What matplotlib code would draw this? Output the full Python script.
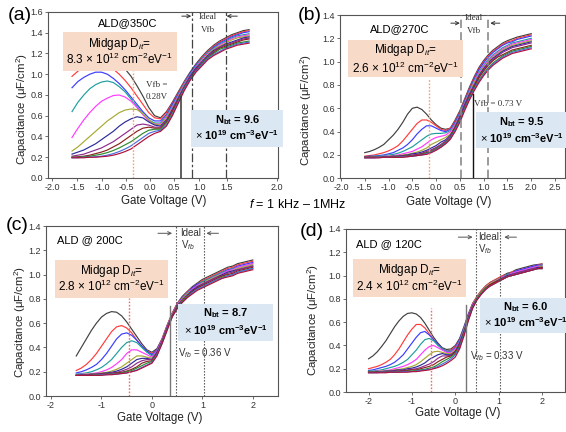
import numpy as np
import matplotlib
matplotlib.use('Agg')
import matplotlib.pyplot as plt
from matplotlib.patches import Rectangle
from matplotlib.ticker import FormatStrFormatter

plt.rcParams['font.family'] = ['Liberation Sans', 'DejaVu Sans']
plt.rcParams['mathtext.fontset'] = 'custom'
plt.rcParams['mathtext.rm'] = 'Liberation Sans'
plt.rcParams['mathtext.it'] = 'Liberation Sans:italic'
plt.rcParams['mathtext.bf'] = 'Liberation Sans:bold'
plt.rcParams['axes.unicode_minus'] = False

COLORS = ['#404040', '#ff3b3b', '#3b3bff', '#1e9e9e', '#ff3bff', '#a8a832',
          '#2b2b9a', '#8e2b8e', '#8b2020', '#2e8b2e', '#4a6fe0', '#b0103c']

# ---------------- voltage sweeps ----------------
va = np.round(np.linspace(-1.5, 1.5, 31), 2)
vb = np.round(np.linspace(-1.5, 2.0, 36), 2)
vc = np.round(np.linspace(-1.5, 2.0, 36), 2)
vd = np.round(np.linspace(-2.0, 2.0, 41), 2)

# ---------------- (a) ALD@350C ----------------
a_inv = [  # -1.5 .. 0.0 V
    [1.10, 1.16, 1.20, 1.23, 1.24, 1.24, 1.22, 1.17, 1.11, 1.05, 0.98, 0.89, 0.79, 0.68, 0.60, 0.58],
    [0.98, 1.03, 1.07, 1.10, 1.11, 1.11, 1.09, 1.05, 1.00, 0.94, 0.87, 0.79, 0.71, 0.63, 0.58, 0.57],
    [0.87, 0.93, 0.97, 1.00, 1.02, 1.02, 1.00, 0.96, 0.91, 0.85, 0.78, 0.71, 0.64, 0.58, 0.55, 0.55],
    [0.64, 0.73, 0.80, 0.86, 0.90, 0.925, 0.935, 0.92, 0.88, 0.83, 0.76, 0.69, 0.62, 0.56, 0.53, 0.53],
    [0.39, 0.48, 0.56, 0.63, 0.69, 0.74, 0.77, 0.795, 0.80, 0.78, 0.74, 0.68, 0.61, 0.55, 0.52, 0.52],
    [0.26, 0.30, 0.35, 0.40, 0.45, 0.50, 0.55, 0.59, 0.63, 0.655, 0.665, 0.66, 0.62, 0.56, 0.52, 0.51],
    [0.23, 0.25, 0.27, 0.30, 0.33, 0.37, 0.41, 0.45, 0.50, 0.54, 0.57, 0.59, 0.58, 0.54, 0.51, 0.50],
    [0.21, 0.22, 0.23, 0.25, 0.27, 0.29, 0.32, 0.35, 0.39, 0.43, 0.47, 0.51, 0.52, 0.51, 0.49, 0.49],
    [0.20, 0.205, 0.21, 0.22, 0.235, 0.25, 0.27, 0.30, 0.33, 0.37, 0.41, 0.45, 0.48, 0.49, 0.48, 0.48],
    [0.20, 0.20, 0.205, 0.21, 0.22, 0.23, 0.245, 0.265, 0.29, 0.32, 0.35, 0.39, 0.43, 0.46, 0.47, 0.47],
    [0.195, 0.195, 0.20, 0.20, 0.205, 0.21, 0.22, 0.235, 0.255, 0.28, 0.31, 0.35, 0.39, 0.43, 0.45, 0.46],
    [0.195, 0.195, 0.195, 0.20, 0.20, 0.205, 0.21, 0.22, 0.235, 0.255, 0.28, 0.32, 0.36, 0.40, 0.43, 0.45],
]
a_acc = [  # 0.1 .. 1.5 V
    [0.64, 0.73, 0.83, 0.93, 1.02, 1.10, 1.17, 1.23, 1.28, 1.32, 1.35, 1.38, 1.40, 1.42, 1.43],
    [0.63, 0.72, 0.82, 0.92, 1.01, 1.09, 1.16, 1.22, 1.27, 1.31, 1.34, 1.37, 1.39, 1.41, 1.42],
    [0.61, 0.71, 0.81, 0.91, 1.01, 1.09, 1.15, 1.21, 1.26, 1.30, 1.33, 1.36, 1.38, 1.40, 1.41],
    [0.60, 0.69, 0.80, 0.91, 1.00, 1.08, 1.15, 1.21, 1.25, 1.29, 1.32, 1.35, 1.37, 1.38, 1.39],
    [0.59, 0.68, 0.79, 0.90, 0.99, 1.07, 1.14, 1.20, 1.24, 1.28, 1.31, 1.34, 1.36, 1.37, 1.38],
    [0.58, 0.67, 0.78, 0.89, 0.98, 1.06, 1.13, 1.19, 1.24, 1.27, 1.30, 1.33, 1.35, 1.36, 1.37],
    [0.56, 0.66, 0.77, 0.88, 0.98, 1.06, 1.12, 1.18, 1.23, 1.26, 1.29, 1.31, 1.33, 1.35, 1.36],
    [0.55, 0.65, 0.76, 0.87, 0.97, 1.05, 1.11, 1.17, 1.22, 1.26, 1.28, 1.30, 1.32, 1.34, 1.35],
    [0.54, 0.64, 0.75, 0.86, 0.96, 1.04, 1.10, 1.16, 1.21, 1.25, 1.27, 1.29, 1.31, 1.33, 1.34],
    [0.53, 0.62, 0.74, 0.86, 0.95, 1.03, 1.10, 1.16, 1.20, 1.24, 1.26, 1.28, 1.30, 1.31, 1.32],
    [0.51, 0.61, 0.73, 0.85, 0.95, 1.03, 1.09, 1.15, 1.19, 1.22, 1.25, 1.27, 1.29, 1.30, 1.31],
    [0.50, 0.60, 0.72, 0.84, 0.94, 1.02, 1.08, 1.14, 1.18, 1.21, 1.24, 1.26, 1.28, 1.29, 1.30],
]

# ---------------- (b) ALD@270C ----------------
b_inv = [  # -1.5 .. 0.3 V
    [0.22, 0.23, 0.245, 0.265, 0.29, 0.33, 0.37, 0.42, 0.48, 0.55, 0.60, 0.61, 0.59, 0.55, 0.50, 0.46, 0.43, 0.42, 0.43],
    [0.19, 0.195, 0.20, 0.21, 0.22, 0.235, 0.255, 0.28, 0.32, 0.37, 0.42, 0.47, 0.50, 0.50, 0.48, 0.45, 0.42, 0.41, 0.43],
    [0.185, 0.19, 0.19, 0.195, 0.20, 0.21, 0.22, 0.24, 0.26, 0.29, 0.33, 0.38, 0.42, 0.45, 0.45, 0.43, 0.41, 0.40, 0.42],
    [0.185, 0.185, 0.19, 0.19, 0.195, 0.20, 0.205, 0.215, 0.23, 0.25, 0.27, 0.30, 0.33, 0.36, 0.38, 0.385, 0.385, 0.39, 0.41],
    [0.18, 0.18, 0.185, 0.185, 0.19, 0.19, 0.195, 0.20, 0.21, 0.22, 0.23, 0.25, 0.27, 0.30, 0.33, 0.35, 0.36, 0.37, 0.40],
    [0.18, 0.18, 0.18, 0.185, 0.185, 0.19, 0.19, 0.195, 0.20, 0.205, 0.215, 0.225, 0.24, 0.26, 0.29, 0.31, 0.33, 0.35, 0.38],
    [0.18, 0.18, 0.18, 0.18, 0.185, 0.185, 0.19, 0.19, 0.195, 0.20, 0.21, 0.215, 0.225, 0.24, 0.26, 0.28, 0.31, 0.33, 0.37],
    [0.18, 0.18, 0.18, 0.18, 0.18, 0.185, 0.185, 0.19, 0.19, 0.195, 0.20, 0.205, 0.215, 0.23, 0.245, 0.265, 0.29, 0.32, 0.36],
    [0.18, 0.18, 0.18, 0.18, 0.18, 0.18, 0.185, 0.185, 0.19, 0.19, 0.195, 0.20, 0.21, 0.22, 0.235, 0.255, 0.28, 0.31, 0.35],
    [0.18, 0.18, 0.18, 0.18, 0.18, 0.18, 0.18, 0.185, 0.185, 0.19, 0.19, 0.195, 0.205, 0.215, 0.23, 0.25, 0.275, 0.305, 0.345],
    [0.175, 0.175, 0.175, 0.18, 0.18, 0.18, 0.18, 0.18, 0.185, 0.185, 0.19, 0.195, 0.20, 0.21, 0.225, 0.245, 0.27, 0.30, 0.34],
    [0.175, 0.175, 0.175, 0.175, 0.18, 0.18, 0.18, 0.18, 0.18, 0.185, 0.19, 0.195, 0.20, 0.205, 0.22, 0.24, 0.265, 0.295, 0.335],
]
b_acc = [  # 0.4 .. 2.0 V
    [0.50, 0.58, 0.68, 0.78, 0.87, 0.95, 1.01, 1.06, 1.10, 1.13, 1.16, 1.18, 1.195, 1.21, 1.22, 1.23, 1.24],
    [0.49, 0.57, 0.67, 0.77, 0.86, 0.94, 1.00, 1.05, 1.09, 1.12, 1.15, 1.17, 1.18, 1.20, 1.21, 1.22, 1.23],
    [0.48, 0.56, 0.66, 0.76, 0.85, 0.93, 0.99, 1.04, 1.08, 1.11, 1.14, 1.16, 1.17, 1.19, 1.20, 1.21, 1.22],
    [0.47, 0.55, 0.65, 0.75, 0.84, 0.91, 0.97, 1.02, 1.06, 1.09, 1.12, 1.14, 1.16, 1.17, 1.18, 1.19, 1.20],
    [0.46, 0.54, 0.64, 0.74, 0.83, 0.90, 0.96, 1.01, 1.05, 1.08, 1.11, 1.13, 1.15, 1.16, 1.17, 1.18, 1.19],
    [0.45, 0.53, 0.63, 0.73, 0.82, 0.89, 0.95, 1.00, 1.04, 1.07, 1.10, 1.12, 1.14, 1.15, 1.16, 1.17, 1.18],
    [0.44, 0.53, 0.63, 0.72, 0.80, 0.88, 0.94, 0.99, 1.03, 1.06, 1.09, 1.11, 1.13, 1.14, 1.15, 1.16, 1.17],
    [0.44, 0.52, 0.62, 0.71, 0.79, 0.87, 0.93, 0.98, 1.02, 1.05, 1.08, 1.10, 1.12, 1.13, 1.14, 1.15, 1.16],
    [0.43, 0.51, 0.61, 0.70, 0.78, 0.86, 0.92, 0.97, 1.01, 1.04, 1.06, 1.08, 1.10, 1.11, 1.12, 1.13, 1.14],
    [0.42, 0.50, 0.60, 0.69, 0.77, 0.84, 0.90, 0.95, 0.99, 1.02, 1.05, 1.07, 1.09, 1.10, 1.11, 1.12, 1.13],
    [0.41, 0.49, 0.59, 0.68, 0.76, 0.83, 0.89, 0.94, 0.98, 1.01, 1.04, 1.06, 1.08, 1.09, 1.10, 1.11, 1.12],
    [0.40, 0.48, 0.58, 0.67, 0.75, 0.82, 0.88, 0.93, 0.97, 1.00, 1.03, 1.05, 1.07, 1.08, 1.09, 1.10, 1.11],
]

# ---------------- (c) ALD @ 200C ----------------
c_inv = [  # -1.5 .. 0.0 V
    [0.33, 0.40, 0.47, 0.54, 0.60, 0.65, 0.68, 0.695, 0.69, 0.66, 0.61, 0.55, 0.49, 0.43, 0.38, 0.36],
    [0.21, 0.23, 0.26, 0.30, 0.35, 0.41, 0.47, 0.53, 0.57, 0.58, 0.56, 0.52, 0.46, 0.41, 0.37, 0.35],
    [0.19, 0.20, 0.215, 0.235, 0.26, 0.30, 0.35, 0.41, 0.47, 0.51, 0.52, 0.50, 0.46, 0.41, 0.37, 0.34],
    [0.18, 0.185, 0.19, 0.20, 0.215, 0.235, 0.265, 0.30, 0.35, 0.40, 0.44, 0.455, 0.44, 0.40, 0.36, 0.33],
    [0.175, 0.18, 0.18, 0.185, 0.19, 0.20, 0.215, 0.235, 0.265, 0.30, 0.35, 0.38, 0.38, 0.36, 0.34, 0.32],
    [0.175, 0.175, 0.18, 0.18, 0.185, 0.19, 0.195, 0.205, 0.22, 0.24, 0.27, 0.30, 0.33, 0.33, 0.32, 0.31],
    [0.17, 0.175, 0.175, 0.18, 0.18, 0.185, 0.19, 0.195, 0.205, 0.22, 0.24, 0.27, 0.30, 0.31, 0.31, 0.30],
    [0.17, 0.17, 0.175, 0.175, 0.18, 0.18, 0.185, 0.19, 0.195, 0.205, 0.22, 0.24, 0.27, 0.29, 0.30, 0.30],
    [0.17, 0.17, 0.17, 0.175, 0.175, 0.18, 0.18, 0.185, 0.19, 0.195, 0.205, 0.22, 0.24, 0.27, 0.285, 0.29],
    [0.17, 0.17, 0.17, 0.17, 0.175, 0.175, 0.18, 0.18, 0.185, 0.19, 0.20, 0.21, 0.23, 0.25, 0.27, 0.285],
    [0.17, 0.17, 0.17, 0.17, 0.17, 0.175, 0.175, 0.18, 0.18, 0.185, 0.19, 0.20, 0.215, 0.235, 0.255, 0.275],
    [0.17, 0.17, 0.17, 0.17, 0.17, 0.17, 0.175, 0.175, 0.18, 0.185, 0.19, 0.20, 0.21, 0.23, 0.25, 0.27],
]
c_acc = [  # 0.1 .. 2.0 V
    [0.39, 0.47, 0.58, 0.68, 0.76, 0.82, 0.86, 0.90, 0.93, 0.96, 0.98, 1.00, 1.02, 1.04, 1.06, 1.07, 1.09, 1.10, 1.11, 1.12],
    [0.38, 0.47, 0.58, 0.68, 0.76, 0.81, 0.86, 0.89, 0.92, 0.95, 0.97, 0.99, 1.01, 1.03, 1.05, 1.06, 1.08, 1.09, 1.10, 1.11],
    [0.38, 0.46, 0.57, 0.67, 0.75, 0.81, 0.85, 0.89, 0.92, 0.94, 0.96, 0.98, 1.00, 1.02, 1.04, 1.05, 1.07, 1.08, 1.09, 1.10],
    [0.37, 0.46, 0.57, 0.67, 0.75, 0.80, 0.85, 0.88, 0.91, 0.94, 0.96, 0.98, 1.00, 1.02, 1.03, 1.05, 1.06, 1.07, 1.08, 1.09],
    [0.37, 0.46, 0.57, 0.67, 0.75, 0.80, 0.84, 0.88, 0.91, 0.93, 0.95, 0.97, 0.99, 1.01, 1.03, 1.04, 1.06, 1.07, 1.08, 1.09],
    [0.36, 0.45, 0.56, 0.67, 0.74, 0.80, 0.84, 0.87, 0.90, 0.93, 0.95, 0.97, 0.99, 1.00, 1.02, 1.03, 1.05, 1.06, 1.07, 1.08],
    [0.36, 0.45, 0.56, 0.66, 0.74, 0.79, 0.83, 0.87, 0.90, 0.92, 0.94, 0.96, 0.98, 1.00, 1.02, 1.03, 1.04, 1.05, 1.06, 1.07],
    [0.35, 0.45, 0.56, 0.66, 0.74, 0.79, 0.83, 0.86, 0.89, 0.92, 0.94, 0.96, 0.98, 0.99, 1.01, 1.02, 1.04, 1.05, 1.06, 1.07],
    [0.35, 0.44, 0.55, 0.66, 0.73, 0.78, 0.82, 0.86, 0.89, 0.91, 0.93, 0.95, 0.97, 0.99, 1.00, 1.01, 1.03, 1.04, 1.05, 1.06],
    [0.34, 0.44, 0.55, 0.65, 0.73, 0.78, 0.82, 0.85, 0.88, 0.90, 0.92, 0.94, 0.96, 0.98, 0.99, 1.00, 1.02, 1.03, 1.04, 1.05],
    [0.34, 0.43, 0.54, 0.65, 0.72, 0.77, 0.81, 0.85, 0.88, 0.90, 0.92, 0.94, 0.96, 0.97, 0.99, 1.00, 1.02, 1.03, 1.04, 1.05],
    [0.33, 0.43, 0.54, 0.65, 0.72, 0.77, 0.81, 0.84, 0.87, 0.89, 0.91, 0.93, 0.95, 0.97, 0.98, 0.99, 1.01, 1.02, 1.03, 1.04],
]

# ---------------- (d) ALD @ 120C ----------------
d_inv = [  # -2.0 .. 0.0 V
    [0.285, 0.31, 0.345, 0.39, 0.44, 0.50, 0.56, 0.61, 0.65, 0.675, 0.68, 0.67, 0.64, 0.59, 0.53, 0.47, 0.42, 0.38, 0.365, 0.37, 0.40],
    [0.20, 0.21, 0.22, 0.235, 0.255, 0.28, 0.32, 0.37, 0.43, 0.49, 0.54, 0.58, 0.58, 0.55, 0.50, 0.45, 0.41, 0.37, 0.35, 0.36, 0.39],
    [0.185, 0.19, 0.20, 0.21, 0.22, 0.235, 0.255, 0.285, 0.32, 0.37, 0.42, 0.47, 0.51, 0.52, 0.49, 0.45, 0.41, 0.37, 0.35, 0.35, 0.38],
    [0.18, 0.18, 0.185, 0.19, 0.20, 0.21, 0.22, 0.235, 0.255, 0.28, 0.32, 0.36, 0.41, 0.45, 0.46, 0.44, 0.40, 0.37, 0.35, 0.35, 0.37],
    [0.175, 0.175, 0.18, 0.18, 0.185, 0.19, 0.20, 0.21, 0.22, 0.235, 0.255, 0.28, 0.32, 0.36, 0.39, 0.40, 0.38, 0.36, 0.34, 0.34, 0.37],
    [0.175, 0.175, 0.175, 0.18, 0.18, 0.185, 0.19, 0.195, 0.20, 0.21, 0.22, 0.235, 0.26, 0.29, 0.32, 0.345, 0.35, 0.34, 0.33, 0.33, 0.36],
    [0.17, 0.17, 0.175, 0.175, 0.18, 0.18, 0.185, 0.19, 0.19, 0.20, 0.205, 0.215, 0.23, 0.25, 0.28, 0.30, 0.32, 0.33, 0.32, 0.32, 0.35],
    [0.17, 0.17, 0.17, 0.175, 0.175, 0.18, 0.18, 0.18, 0.185, 0.19, 0.195, 0.20, 0.21, 0.225, 0.24, 0.26, 0.29, 0.31, 0.31, 0.315, 0.345],
    [0.17, 0.17, 0.17, 0.17, 0.175, 0.175, 0.175, 0.18, 0.18, 0.185, 0.19, 0.19, 0.20, 0.21, 0.22, 0.235, 0.26, 0.28, 0.30, 0.31, 0.34],
    [0.17, 0.17, 0.17, 0.17, 0.17, 0.17, 0.175, 0.175, 0.175, 0.18, 0.18, 0.185, 0.19, 0.195, 0.205, 0.215, 0.235, 0.26, 0.28, 0.30, 0.33],
    [0.165, 0.165, 0.165, 0.17, 0.17, 0.17, 0.17, 0.17, 0.175, 0.175, 0.175, 0.18, 0.185, 0.19, 0.195, 0.205, 0.22, 0.24, 0.26, 0.285, 0.32],
    [0.165, 0.165, 0.165, 0.165, 0.165, 0.17, 0.17, 0.17, 0.17, 0.17, 0.175, 0.175, 0.18, 0.185, 0.19, 0.20, 0.21, 0.225, 0.245, 0.27, 0.30],
]
d_acc = [  # 0.1 .. 2.0 V
    [0.46, 0.56, 0.67, 0.76, 0.82, 0.87, 0.91, 0.94, 0.96, 0.98, 1.00, 1.02, 1.03, 1.05, 1.06, 1.07, 1.08, 1.09, 1.095, 1.10],
    [0.45, 0.55, 0.66, 0.76, 0.82, 0.87, 0.91, 0.94, 0.96, 0.98, 1.00, 1.01, 1.03, 1.04, 1.05, 1.06, 1.07, 1.08, 1.09, 1.10],
    [0.45, 0.55, 0.66, 0.75, 0.81, 0.86, 0.90, 0.93, 0.95, 0.97, 0.99, 1.01, 1.02, 1.04, 1.05, 1.06, 1.07, 1.08, 1.09, 1.09],
    [0.44, 0.54, 0.65, 0.75, 0.81, 0.86, 0.90, 0.93, 0.95, 0.97, 0.99, 1.01, 1.02, 1.03, 1.04, 1.05, 1.06, 1.07, 1.08, 1.09],
    [0.43, 0.53, 0.65, 0.75, 0.81, 0.86, 0.90, 0.93, 0.95, 0.97, 0.99, 1.00, 1.02, 1.03, 1.04, 1.05, 1.06, 1.07, 1.08, 1.08],
    [0.42, 0.53, 0.64, 0.74, 0.81, 0.86, 0.90, 0.93, 0.95, 0.97, 0.98, 1.00, 1.01, 1.02, 1.03, 1.04, 1.05, 1.06, 1.07, 1.08],
    [0.42, 0.52, 0.64, 0.74, 0.80, 0.85, 0.89, 0.92, 0.94, 0.96, 0.98, 1.00, 1.01, 1.02, 1.03, 1.04, 1.05, 1.06, 1.07, 1.07],
    [0.41, 0.51, 0.63, 0.74, 0.80, 0.85, 0.89, 0.92, 0.94, 0.96, 0.98, 0.99, 1.01, 1.02, 1.03, 1.04, 1.05, 1.06, 1.06, 1.07],
    [0.40, 0.51, 0.63, 0.73, 0.80, 0.85, 0.89, 0.92, 0.94, 0.96, 0.97, 0.99, 1.00, 1.01, 1.02, 1.03, 1.04, 1.05, 1.06, 1.07],
    [0.39, 0.50, 0.62, 0.73, 0.80, 0.85, 0.89, 0.91, 0.93, 0.95, 0.97, 0.99, 1.00, 1.01, 1.02, 1.03, 1.04, 1.05, 1.06, 1.06],
    [0.38, 0.49, 0.62, 0.72, 0.79, 0.84, 0.88, 0.91, 0.93, 0.95, 0.97, 0.99, 1.00, 1.01, 1.02, 1.03, 1.04, 1.05, 1.06, 1.06],
    [0.37, 0.48, 0.61, 0.72, 0.79, 0.84, 0.88, 0.91, 0.93, 0.95, 0.97, 0.99, 1.00, 1.01, 1.02, 1.03, 1.04, 1.05, 1.06, 1.06],
]

# annotation texts / values
titles = ['ALD@350C', 'ALD@270C', 'ALD @ 200C', 'ALD @ 120C']
dit_vals = ['8.3', '2.6', '2.8', '2.4']
nbt_vals = ['9.6', '9.5', '8.7', '6.0']
vfb_vals = [0.28, 0.73, 0.36, 0.33]
a_tick_labels = ['-2.0', '-1.5', '-1.0', '-0.5', '0.0', '0.5', '1.0', '1.5', '2.0']

# ---------------- figure ----------------
W, H = 566, 432
fig = plt.figure(figsize=(W / 100, H / 100), dpi=100)


def px_axes(L, R, T, B):
    return fig.add_axes([L / W, 1 - B / H, (R - L) / W, (B - T) / H])


axA = px_axes(48, 278, 12, 178)
axB = px_axes(340, 565, 15, 178.3)
axC = px_axes(46, 278, 226, 396)
axD = px_axes(346, 565, 229, 392)

PEACH = '#f8dac8'
LBLUE = '#dbe8f4'


def style_axes(ax, xlim, ylim, yticks):
    ax.set_xlim(*xlim)
    ax.set_ylim(*ylim)
    ax.set_yticks(yticks)
    ax.yaxis.set_major_formatter(FormatStrFormatter('%.1f'))
    for s in ax.spines.values():
        s.set_color('#555555')
        s.set_linewidth(0.8)
    ax.tick_params(direction='out', length=2.5, width=0.6, colors='#555555',
                   labelsize=6.5, pad=1.0, labelcolor='#333333')


def draw_curves(ax, V, inv, acc):
    for k in range(len(inv)):
        y = np.array(inv[k] + acc[k])
        ax.plot(V, y, color=COLORS[k], lw=0.85, zorder=3)


def box(ax, x0, x1, y0, y1, color):
    ax.add_patch(Rectangle((x0, y0), x1 - x0, y1 - y0, facecolor=color,
                           edgecolor='none', zorder=5, clip_on=False))


def arrows(ax, xl0, xl1, xr0, xr1, y, color='#333333'):
    kw = dict(arrowstyle='->', color=color, lw=0.7, shrinkA=0, shrinkB=0,
              mutation_scale=6)
    ax.annotate('', xy=(xl1, y), xytext=(xl0, y), arrowprops=kw, annotation_clip=False)
    ax.annotate('', xy=(xr1, y), xytext=(xr0, y), arrowprops=kw, annotation_clip=False)


def dit_text(ax, x, y1, y2, val, fs=8.5):
    ax.text(x, y1, r'Midgap D$_{it}$=', ha='center', va='center', fontsize=fs, zorder=6)
    ax.text(x, y2, val + r' $\times$ 10$^{12}$ cm$^{-2}$eV$^{-1}$', ha='center',
            va='center', fontsize=fs, zorder=6)


def nbt_text(ax, x, y1, y2, val, fs=8):
    ax.text(x, y1, r'$\mathbf{N_{bt}}$ = ' + val, ha='center', va='center',
            fontsize=fs, fontweight='bold', zorder=6, clip_on=False)
    ax.text(x, y2, r'$\times$ $\mathbf{10^{19}}$ $\mathbf{cm^{-3}eV^{-1}}$',
            ha='center', va='center', fontsize=fs, fontweight='bold', zorder=6,
            clip_on=False)


# ---------------- panel (a) ----------------
ax = axA
style_axes(ax, (-1.907, 1.99), (0, 1.6), np.arange(0, 1.61, 0.2))
ax.set_xticks([-1.839, -1.415, -0.992, -0.585, -0.178, 0.229, 0.653, 1.127, 1.975])
ax.set_xticklabels(a_tick_labels)
draw_curves(ax, va, a_inv, a_acc)
for xv in (0.53, 1.11):
    ax.axvline(xv, color='#444444', lw=0.9, ls=(0, (7, 2, 2, 2)), zorder=4)
ax.plot([0.35, 0.35], [0, 0.78], color='#333333', lw=1.1, zorder=4)
ax.plot([-0.47, -0.47], [0, 1.03], color='#f4a070', lw=1.0, ls=(0, (1.2, 1.2)), zorder=4)
box(ax, -1.65, 0.28, 1.03, 1.41, PEACH)
dit_text(ax, -0.69, 1.29, 1.14, dit_vals[0])
box(ax, 0.52, 2.07, 0.30, 0.655, LBLUE)
nbt_text(ax, 1.30, 0.56, 0.41, nbt_vals[0])
ax.text(-0.55, 1.49, titles[0], ha='center', va='center', fontsize=8)
ax.text(0.80, 1.55, 'Ideal', ha='center', va='center', fontsize=6.5,
        family='Liberation Serif', color='#333333')
ax.text(0.80, 1.43, 'Vfb', ha='center', va='center', fontsize=6.5,
        family='Liberation Serif', color='#333333')
arrows(ax, 0.36, 0.52, 1.30, 1.12, 1.56)
ax.text(-0.06, 0.90, 'Vfb =', ha='center', va='center', fontsize=6.5,
        family='Liberation Serif', color='#333333')
ax.text(-0.06, 0.78, '%.2fV' % vfb_vals[0], ha='center', va='center', fontsize=6.5,
        family='Liberation Serif', color='#333333')

# ---------------- panel (b) ----------------
ax = axB
style_axes(ax, (-2.02, 2.71), (0, 1.4), np.arange(0, 1.41, 0.2))
ax.set_xticks(np.arange(-2.0, 2.51, 0.5))
ax.xaxis.set_major_formatter(FormatStrFormatter('%.1f'))
draw_curves(ax, vb, b_inv, b_acc)
for xv in (0.52, 1.09):
    ax.axvline(xv, color='#8a8a8a', lw=1.2, ls=(0, (5, 2.5)), zorder=4)
ax.plot([0.78, 0.78], [0, 0.72], color='#111111', lw=1.0, zorder=4)
ax.plot([-0.14, -0.14], [0, 0.85], color='#f4a070', lw=1.0, ls=(0, (1.2, 1.2)), zorder=4)
box(ax, -1.85, 0.56, 0.87, 1.185, PEACH)
dit_text(ax, -0.65, 1.10, 0.945, dit_vals[1])
box(ax, 0.84, 2.75, 0.26, 0.57, LBLUE)
nbt_text(ax, 1.80, 0.48, 0.345, nbt_vals[1])
ax.text(-0.76, 1.28, titles[1], ha='center', va='center', fontsize=8)
ax.text(0.80, 1.37, 'Ideal', ha='center', va='center', fontsize=6.5,
        family='Liberation Serif', color='#333333')
ax.text(0.80, 1.26, 'Vfb', ha='center', va='center', fontsize=6.5,
        family='Liberation Serif', color='#333333')
arrows(ax, 0.31, 0.50, 1.34, 1.14, 1.33)
ax.text(0.80, 0.64, 'Vfb = %.2f V' % vfb_vals[1], ha='left', va='center', fontsize=6.5,
        family='Liberation Serif', color='#333333', zorder=6)

# ---------------- panel (c) ----------------
ax = axC
style_axes(ax, (-2.1, 2.5), (0, 1.4), np.arange(0, 1.41, 0.2))
ax.set_xticks([-2, -1, 0, 1, 2])
draw_curves(ax, vc, c_inv, c_acc)
for xv in (0.48, 1.03):
    ax.axvline(xv, color='#444444', lw=0.8, ls=(0, (1.2, 1.5)), zorder=4)
ax.plot([0.36, 0.36], [0, 0.74], color='#777777', lw=1.0, zorder=4)
ax.plot([-0.46, -0.46], [0, 0.81], color='#f06a6a', lw=1.0, ls=(0, (1.2, 1.2)), zorder=4)
box(ax, -1.92, 0.32, 0.81, 1.116, PEACH)
dit_text(ax, -0.80, 1.03, 0.90, dit_vals[2])
box(ax, 0.52, 2.40, 0.455, 0.76, LBLUE)
nbt_text(ax, 1.46, 0.68, 0.545, nbt_vals[2])
ax.text(-1.88, 1.28, titles[2], ha='left', va='center', fontsize=8)
ax.text(0.77, 1.34, 'Ideal', ha='center', va='center', fontsize=7, color='#333333')
ax.text(0.72, 1.24, r'V$_{fb}$', ha='center', va='center', fontsize=7, color='#333333')
arrows(ax, 0.12, 0.40, 1.32, 1.08, 1.34, color='#555555')
ax.text(0.52, 0.355, r'V$_{fb}$ = %.2f V' % vfb_vals[2], ha='left', va='center',
        fontsize=7, color='#333333')

# ---------------- panel (d) ----------------
ax = axD
style_axes(ax, (-2.52, 2.53), (0, 1.4), np.arange(0, 1.41, 0.2))
ax.set_xticks([-2, -1, 0, 1, 2])
draw_curves(ax, vd, d_inv, d_acc)
for xv in (0.485, 1.04):
    ax.axvline(xv, color='#444444', lw=0.8, ls=(0, (1.2, 1.5)), zorder=4)
ax.plot([0.25, 0.25], [0, 0.75], color='#777777', lw=1.0, zorder=4)
ax.plot([-0.55, -0.55], [0, 0.72], color='#f06a6a', lw=1.0, ls=(0, (1.2, 1.2)), zorder=4)
box(ax, -2.36, 0.25, 0.82, 1.14, PEACH)
dit_text(ax, -1.05, 1.05, 0.91, dit_vals[3])
box(ax, 0.58, 2.70, 0.51, 0.81, LBLUE)
nbt_text(ax, 1.62, 0.73, 0.60, nbt_vals[3])
ax.text(-2.29, 1.27, titles[3], ha='left', va='center', fontsize=8)
ax.text(0.76, 1.33, 'Ideal', ha='center', va='center', fontsize=7, color='#333333')
ax.text(0.69, 1.23, r'V$_{fb}$', ha='center', va='center', fontsize=7, color='#333333')
arrows(ax, 0.07, 0.40, 1.41, 1.13, 1.33, color='#555555')
ax.text(0.35, 0.31, r'V$_{fb}$ = %.2f V' % vfb_vals[3], ha='left', va='center',
        fontsize=7, color='#333333')

# axis labels (placed in figure pixels)
ylab_pos = [(22, 109), (306, 110), (20, 322), (313, 320)]
xlab_pos = [(164, 201), (449, 202), (160, 418), (458, 413)]
for (yx, yy) in ylab_pos:
    fig.text(yx / W, 1 - yy / H, 'Capacitance (μF/cm$^2$)', rotation=90,
             ha='center', va='center', fontsize=8.2, color='#222222')
for (xx, xy) in xlab_pos:
    fig.text(xx / W, 1 - xy / H, 'Gate Voltage (V)', ha='center', va='center',
             fontsize=8.3, color='#222222')

# panel letters
for s, x, y in [('(a)', 0.035, 0.965), ('(b)', 0.547, 0.965),
                ('(c)', 0.031, 0.478), ('(d)', 0.551, 0.465)]:
    fig.text(x, y, s, ha='center', va='center', fontsize=14)

fig.text(0.5265, 0.5255, r'$f$ = 1 kHz – 1MHz', ha='center', va='center', fontsize=9)

fig.savefig('out.png', dpi=100)
